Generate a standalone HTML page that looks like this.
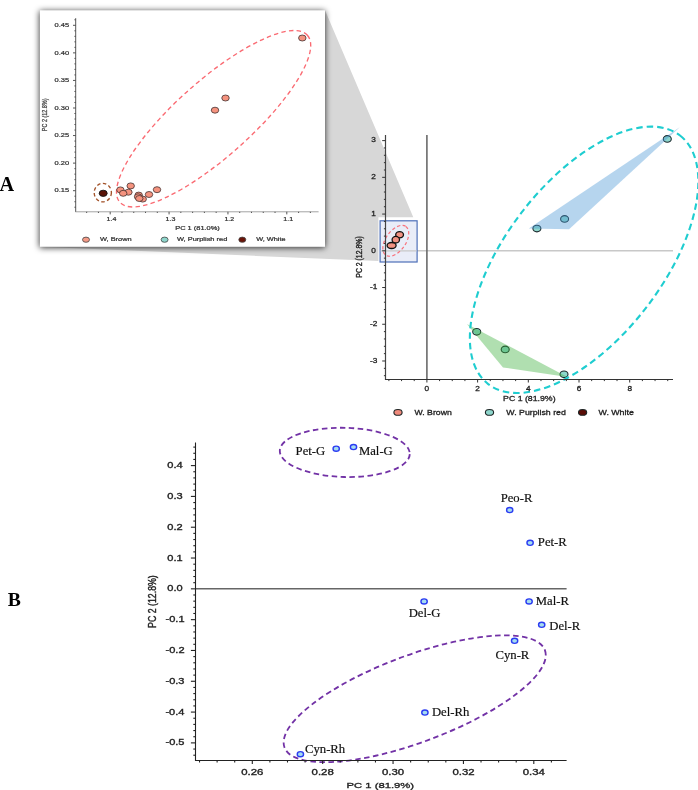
<!DOCTYPE html><html><head><meta charset="utf-8"><style>html,body{margin:0;padding:0;background:#fff;width:698px;height:790px;overflow:hidden}svg{display:block;filter:blur(0.3px)}</style></head><body>
<svg width="698" height="790" viewBox="0 0 698 790">
<defs><filter id="sh" x="-10%" y="-10%" width="120%" height="120%"><feGaussianBlur stdDeviation="3.2"/></filter></defs>
<rect width="698" height="790" fill="#fff"/>
<filter id="pb" x="-5%" y="-5%" width="110%" height="110%"><feGaussianBlur stdDeviation="0.7"/></filter>
<polygon points="325,10.3 413.3,217.3 378.4,217.3 378.4,261.1 39.9,246.8" fill="#d7d7d7" filter="url(#pb)"/>
<line x1="383" y1="250.80" x2="673" y2="250.80" stroke="#c8c8c8" stroke-width="1.5"/>
<line x1="426.90" y1="135" x2="426.90" y2="379.5" stroke="#6a6a6a" stroke-width="1.6"/>
<ellipse cx="536.9" cy="228.6" rx="4.0" ry="3.3" fill="#8ed6cc" stroke="#1e2a2e" stroke-width="1.1"/>
<ellipse cx="564.6" cy="218.9" rx="4.0" ry="3.3" fill="#8ed6cc" stroke="#1e2a2e" stroke-width="1.1"/>
<ellipse cx="667.3" cy="138.9" rx="4.0" ry="3.3" fill="#8ed6cc" stroke="#1e2a2e" stroke-width="1.1"/>
<ellipse cx="476.7" cy="331.8" rx="4.0" ry="3.3" fill="#8ed6cc" stroke="#1e2a2e" stroke-width="1.1"/>
<ellipse cx="505.2" cy="349.4" rx="4.0" ry="3.3" fill="#8ed6cc" stroke="#1e2a2e" stroke-width="1.1"/>
<ellipse cx="564.0" cy="374.3" rx="4.0" ry="3.3" fill="#8ed6cc" stroke="#1e2a2e" stroke-width="1.1"/>
<polygon points="528.8,228.6 679.7,127.3 569.1,229.3" fill="#4896d4" fill-opacity="0.4"/>
<polygon points="466.9,323.9 567.4,376.9 503,367.4" fill="#3aaf3a" fill-opacity="0.4"/>
<ellipse cx="584.1" cy="259.8" rx="157" ry="78.4" transform="rotate(-52.35 584.1 259.8)" fill="none" stroke="#1fcdd0" stroke-width="2.1" stroke-dasharray="6.5,4"/>
<rect x="380.1" y="220.8" width="37" height="41.2" fill="#e9edf8" stroke="#4d6fb8" stroke-width="1.2"/>
<line x1="380.5" y1="250.80" x2="416.5" y2="250.80" stroke="#c8c8c8" stroke-width="1.3"/>
<ellipse cx="395.8" cy="240.8" rx="17.5" ry="10" transform="rotate(-55 395.8 240.8)" fill="none" stroke="#f8707a" stroke-width="1.2" stroke-dasharray="3.2,2.4"/>
<ellipse cx="399.6" cy="234.8" rx="3.9" ry="3.1" fill="#f29283" stroke="#111" stroke-width="1.3"/>
<ellipse cx="395.8" cy="239.7" rx="3.7" ry="3.3" fill="#f29283" stroke="#111" stroke-width="1.3"/>
<ellipse cx="391.6" cy="245.5" rx="4.5" ry="3.0" fill="#f29283" stroke="#111" stroke-width="1.3"/>
<g stroke="#333" stroke-width="1" fill="none">
<line x1="385.5" y1="135" x2="385.5" y2="380" stroke="#444" stroke-width="1.2"/>
<line x1="385" y1="379.5" x2="673" y2="379.5"/>
<line x1="383.90" y1="375.68" x2="385.5" y2="375.68"/>
<line x1="383.90" y1="368.34" x2="385.5" y2="368.34"/>
<line x1="382.20" y1="360.99" x2="385.5" y2="360.99"/>
<line x1="383.90" y1="353.64" x2="385.5" y2="353.64"/>
<line x1="383.90" y1="346.30" x2="385.5" y2="346.30"/>
<line x1="383.90" y1="338.95" x2="385.5" y2="338.95"/>
<line x1="383.90" y1="331.61" x2="385.5" y2="331.61"/>
<line x1="382.20" y1="324.26" x2="385.5" y2="324.26"/>
<line x1="383.90" y1="316.91" x2="385.5" y2="316.91"/>
<line x1="383.90" y1="309.57" x2="385.5" y2="309.57"/>
<line x1="383.90" y1="302.22" x2="385.5" y2="302.22"/>
<line x1="383.90" y1="294.88" x2="385.5" y2="294.88"/>
<line x1="382.20" y1="287.53" x2="385.5" y2="287.53"/>
<line x1="383.90" y1="280.18" x2="385.5" y2="280.18"/>
<line x1="383.90" y1="272.84" x2="385.5" y2="272.84"/>
<line x1="383.90" y1="265.49" x2="385.5" y2="265.49"/>
<line x1="383.90" y1="258.15" x2="385.5" y2="258.15"/>
<line x1="382.20" y1="250.80" x2="385.5" y2="250.80"/>
<line x1="383.90" y1="243.45" x2="385.5" y2="243.45"/>
<line x1="383.90" y1="236.11" x2="385.5" y2="236.11"/>
<line x1="383.90" y1="228.76" x2="385.5" y2="228.76"/>
<line x1="383.90" y1="221.42" x2="385.5" y2="221.42"/>
<line x1="382.20" y1="214.07" x2="385.5" y2="214.07"/>
<line x1="383.90" y1="206.72" x2="385.5" y2="206.72"/>
<line x1="383.90" y1="199.38" x2="385.5" y2="199.38"/>
<line x1="383.90" y1="192.03" x2="385.5" y2="192.03"/>
<line x1="383.90" y1="184.69" x2="385.5" y2="184.69"/>
<line x1="382.20" y1="177.34" x2="385.5" y2="177.34"/>
<line x1="383.90" y1="169.99" x2="385.5" y2="169.99"/>
<line x1="383.90" y1="162.65" x2="385.5" y2="162.65"/>
<line x1="383.90" y1="155.30" x2="385.5" y2="155.30"/>
<line x1="383.90" y1="147.96" x2="385.5" y2="147.96"/>
<line x1="382.20" y1="140.61" x2="385.5" y2="140.61"/>
<line x1="388.88" y1="379.5" x2="388.88" y2="381.10"/>
<line x1="401.55" y1="379.5" x2="401.55" y2="381.10"/>
<line x1="414.22" y1="379.5" x2="414.22" y2="381.10"/>
<line x1="426.90" y1="379.5" x2="426.90" y2="382.50"/>
<line x1="439.57" y1="379.5" x2="439.57" y2="381.10"/>
<line x1="452.25" y1="379.5" x2="452.25" y2="381.10"/>
<line x1="464.92" y1="379.5" x2="464.92" y2="381.10"/>
<line x1="477.60" y1="379.5" x2="477.60" y2="382.50"/>
<line x1="490.27" y1="379.5" x2="490.27" y2="381.10"/>
<line x1="502.95" y1="379.5" x2="502.95" y2="381.10"/>
<line x1="515.62" y1="379.5" x2="515.62" y2="381.10"/>
<line x1="528.30" y1="379.5" x2="528.30" y2="382.50"/>
<line x1="540.98" y1="379.5" x2="540.98" y2="381.10"/>
<line x1="553.65" y1="379.5" x2="553.65" y2="381.10"/>
<line x1="566.33" y1="379.5" x2="566.33" y2="381.10"/>
<line x1="579.00" y1="379.5" x2="579.00" y2="382.50"/>
<line x1="591.67" y1="379.5" x2="591.67" y2="381.10"/>
<line x1="604.35" y1="379.5" x2="604.35" y2="381.10"/>
<line x1="617.02" y1="379.5" x2="617.02" y2="381.10"/>
<line x1="629.70" y1="379.5" x2="629.70" y2="382.50"/>
<line x1="642.38" y1="379.5" x2="642.38" y2="381.10"/>
<line x1="655.05" y1="379.5" x2="655.05" y2="381.10"/>
<line x1="667.73" y1="379.5" x2="667.73" y2="381.10"/>
</g>
<text x="371.32" y="142.35" font-size="6.9" font-family='"Liberation Sans", sans-serif' fill="#222" stroke="#222" stroke-width="0.276" textLength="4.60" lengthAdjust="spacingAndGlyphs">3</text>
<text x="371.30" y="179.08" font-size="6.9" font-family='"Liberation Sans", sans-serif' fill="#222" stroke="#222" stroke-width="0.276" textLength="4.60" lengthAdjust="spacingAndGlyphs">2</text>
<text x="371.18" y="215.81" font-size="6.9" font-family='"Liberation Sans", sans-serif' fill="#222" stroke="#222" stroke-width="0.276" textLength="4.60" lengthAdjust="spacingAndGlyphs">1</text>
<text x="371.30" y="252.54" font-size="6.9" font-family='"Liberation Sans", sans-serif' fill="#222" stroke="#222" stroke-width="0.276" textLength="4.60" lengthAdjust="spacingAndGlyphs">0</text>
<text x="369.94" y="289.27" font-size="6.9" font-family='"Liberation Sans", sans-serif' fill="#222" stroke="#222" stroke-width="0.276" textLength="7.36" lengthAdjust="spacingAndGlyphs">-1</text>
<text x="369.94" y="326.00" font-size="6.9" font-family='"Liberation Sans", sans-serif' fill="#222" stroke="#222" stroke-width="0.276" textLength="7.36" lengthAdjust="spacingAndGlyphs">-2</text>
<text x="369.92" y="362.73" font-size="6.9" font-family='"Liberation Sans", sans-serif' fill="#222" stroke="#222" stroke-width="0.276" textLength="7.36" lengthAdjust="spacingAndGlyphs">-3</text>
<text x="424.60" y="390.90" font-size="6.9" font-family='"Liberation Sans", sans-serif' fill="#222" stroke="#222" stroke-width="0.276" textLength="4.60" lengthAdjust="spacingAndGlyphs">0</text>
<text x="475.30" y="390.90" font-size="6.9" font-family='"Liberation Sans", sans-serif' fill="#222" stroke="#222" stroke-width="0.276" textLength="4.60" lengthAdjust="spacingAndGlyphs">2</text>
<text x="526.02" y="390.90" font-size="6.9" font-family='"Liberation Sans", sans-serif' fill="#222" stroke="#222" stroke-width="0.276" textLength="4.60" lengthAdjust="spacingAndGlyphs">4</text>
<text x="576.67" y="390.90" font-size="6.9" font-family='"Liberation Sans", sans-serif' fill="#222" stroke="#222" stroke-width="0.276" textLength="4.60" lengthAdjust="spacingAndGlyphs">6</text>
<text x="627.40" y="390.90" font-size="6.9" font-family='"Liberation Sans", sans-serif' fill="#222" stroke="#222" stroke-width="0.276" textLength="4.60" lengthAdjust="spacingAndGlyphs">8</text>
<text x="503.08" y="401.10" font-size="6.9" font-family='"Liberation Sans", sans-serif' fill="#222" stroke="#222" stroke-width="0.276" textLength="52.48" lengthAdjust="spacingAndGlyphs">PC 1 (81.9%)</text>
<text transform="translate(361.95,257.00) scale(1.23,1) rotate(-90)" x="0" y="0" font-size="6.9" font-family='"Liberation Sans", sans-serif' fill="#222" stroke="#222" stroke-width="0.276" text-anchor="middle" textLength="41.42" lengthAdjust="spacingAndGlyphs">PC 2 (12.8%)</text>
<ellipse cx="398" cy="412.4" rx="4.1" ry="2.9" fill="#f08a7c" stroke="#1e2626" stroke-width="1.1"/>
<text x="414.56" y="414.80" font-size="7.7" font-family='"Liberation Sans", sans-serif' fill="#222" stroke="#222" stroke-width="0.308" textLength="37.21" lengthAdjust="spacingAndGlyphs">W. Brown</text>
<ellipse cx="489.5" cy="412.4" rx="4.1" ry="2.9" fill="#8ed6cc" stroke="#1e2626" stroke-width="1.1"/>
<text x="506.36" y="414.80" font-size="7.7" font-family='"Liberation Sans", sans-serif' fill="#222" stroke="#222" stroke-width="0.308" textLength="59.48" lengthAdjust="spacingAndGlyphs">W. Purplish red</text>
<ellipse cx="582.6" cy="412.4" rx="4.1" ry="2.9" fill="#5a0c06" stroke="#1e2626" stroke-width="1.1"/>
<text x="598.56" y="414.80" font-size="7.7" font-family='"Liberation Sans", sans-serif' fill="#222" stroke="#222" stroke-width="0.308" textLength="35.32" lengthAdjust="spacingAndGlyphs">W. White</text>
<rect x="39.6" y="11.1" width="285.4" height="236.5" fill="#000" fill-opacity="0.82" filter="url(#sh)"/>
<rect x="39.9" y="10.3" width="285.1" height="236.5" fill="#fff"/>
<ellipse cx="213.6" cy="118.75" rx="125.6" ry="37.9" transform="rotate(-41.7 213.6 118.75)" fill="none" stroke="#fa6a72" stroke-width="1.35" stroke-dasharray="4.5,3.2"/>
<ellipse cx="102.8" cy="192.6" rx="8.6" ry="9.3" fill="none" stroke="#a3532a" stroke-width="1.35" stroke-dasharray="3.5,2.5"/>
<ellipse cx="302.3" cy="38" rx="3.75" ry="3.0" fill="#f5937f" stroke="#3a2a2a" stroke-width="0.75"/>
<ellipse cx="225.5" cy="98" rx="3.75" ry="3.0" fill="#f5937f" stroke="#3a2a2a" stroke-width="0.75"/>
<ellipse cx="215" cy="110.2" rx="3.75" ry="3.0" fill="#f5937f" stroke="#3a2a2a" stroke-width="0.75"/>
<ellipse cx="130.7" cy="185.9" rx="3.75" ry="3.0" fill="#f5937f" stroke="#3a2a2a" stroke-width="0.75"/>
<ellipse cx="120.4" cy="189.9" rx="3.75" ry="3.0" fill="#f5937f" stroke="#3a2a2a" stroke-width="0.75"/>
<ellipse cx="128.4" cy="192.2" rx="3.75" ry="3.0" fill="#f5937f" stroke="#3a2a2a" stroke-width="0.75"/>
<ellipse cx="123.2" cy="193.3" rx="3.75" ry="3.0" fill="#f5937f" stroke="#3a2a2a" stroke-width="0.75"/>
<ellipse cx="157" cy="189.7" rx="3.75" ry="3.0" fill="#f5937f" stroke="#3a2a2a" stroke-width="0.75"/>
<ellipse cx="149" cy="194.5" rx="3.75" ry="3.0" fill="#f5937f" stroke="#3a2a2a" stroke-width="0.75"/>
<ellipse cx="138.7" cy="195.1" rx="3.75" ry="3.0" fill="#f5937f" stroke="#3a2a2a" stroke-width="0.75"/>
<ellipse cx="138.1" cy="196.8" rx="3.75" ry="3.0" fill="#f5937f" stroke="#3a2a2a" stroke-width="0.75"/>
<ellipse cx="142.7" cy="199.1" rx="3.75" ry="3.0" fill="#f5937f" stroke="#3a2a2a" stroke-width="0.75"/>
<ellipse cx="139.3" cy="198.5" rx="3.75" ry="3.0" fill="#f5937f" stroke="#3a2a2a" stroke-width="0.75"/>
<ellipse cx="103.2" cy="193.3" rx="4.0" ry="3.1" fill="#5a1408" stroke="#111" stroke-width="0.9"/>
<g stroke="#444" stroke-width="0.9" fill="none">
<line x1="75.7" y1="18.2" x2="75.7" y2="212"/>
<line x1="75.4" y1="211.8" x2="318.6" y2="211.8" stroke="#999"/>
<line x1="74.40" y1="207.23" x2="75.7" y2="207.23"/>
<line x1="74.40" y1="201.72" x2="75.7" y2="201.72"/>
<line x1="74.40" y1="196.20" x2="75.7" y2="196.20"/>
<line x1="73.00" y1="190.69" x2="75.7" y2="190.69"/>
<line x1="74.40" y1="185.18" x2="75.7" y2="185.18"/>
<line x1="74.40" y1="179.66" x2="75.7" y2="179.66"/>
<line x1="74.40" y1="174.15" x2="75.7" y2="174.15"/>
<line x1="74.40" y1="168.64" x2="75.7" y2="168.64"/>
<line x1="73.00" y1="163.12" x2="75.7" y2="163.12"/>
<line x1="74.40" y1="157.61" x2="75.7" y2="157.61"/>
<line x1="74.40" y1="152.10" x2="75.7" y2="152.10"/>
<line x1="74.40" y1="146.59" x2="75.7" y2="146.59"/>
<line x1="74.40" y1="141.07" x2="75.7" y2="141.07"/>
<line x1="73.00" y1="135.56" x2="75.7" y2="135.56"/>
<line x1="74.40" y1="130.05" x2="75.7" y2="130.05"/>
<line x1="74.40" y1="124.53" x2="75.7" y2="124.53"/>
<line x1="74.40" y1="119.02" x2="75.7" y2="119.02"/>
<line x1="74.40" y1="113.51" x2="75.7" y2="113.51"/>
<line x1="73.00" y1="108.00" x2="75.7" y2="108.00"/>
<line x1="74.40" y1="102.48" x2="75.7" y2="102.48"/>
<line x1="74.40" y1="96.97" x2="75.7" y2="96.97"/>
<line x1="74.40" y1="91.46" x2="75.7" y2="91.46"/>
<line x1="74.40" y1="85.94" x2="75.7" y2="85.94"/>
<line x1="73.00" y1="80.43" x2="75.7" y2="80.43"/>
<line x1="74.40" y1="74.92" x2="75.7" y2="74.92"/>
<line x1="74.40" y1="69.40" x2="75.7" y2="69.40"/>
<line x1="74.40" y1="63.89" x2="75.7" y2="63.89"/>
<line x1="74.40" y1="58.38" x2="75.7" y2="58.38"/>
<line x1="73.00" y1="52.86" x2="75.7" y2="52.86"/>
<line x1="74.40" y1="47.35" x2="75.7" y2="47.35"/>
<line x1="74.40" y1="41.84" x2="75.7" y2="41.84"/>
<line x1="74.40" y1="36.33" x2="75.7" y2="36.33"/>
<line x1="74.40" y1="30.81" x2="75.7" y2="30.81"/>
<line x1="73.00" y1="25.30" x2="75.7" y2="25.30"/>
<line x1="74.40" y1="19.79" x2="75.7" y2="19.79"/>
<line x1="86.65" y1="211.8" x2="86.65" y2="213.00"/>
<line x1="98.43" y1="211.8" x2="98.43" y2="213.00"/>
<line x1="110.20" y1="211.8" x2="110.20" y2="214.40"/>
<line x1="121.97" y1="211.8" x2="121.97" y2="213.00"/>
<line x1="133.75" y1="211.8" x2="133.75" y2="213.00"/>
<line x1="145.52" y1="211.8" x2="145.52" y2="213.00"/>
<line x1="157.30" y1="211.8" x2="157.30" y2="213.00"/>
<line x1="169.07" y1="211.8" x2="169.07" y2="214.40"/>
<line x1="180.84" y1="211.8" x2="180.84" y2="213.00"/>
<line x1="192.62" y1="211.8" x2="192.62" y2="213.00"/>
<line x1="204.39" y1="211.8" x2="204.39" y2="213.00"/>
<line x1="216.17" y1="211.8" x2="216.17" y2="213.00"/>
<line x1="227.94" y1="211.8" x2="227.94" y2="214.40"/>
<line x1="239.71" y1="211.8" x2="239.71" y2="213.00"/>
<line x1="251.49" y1="211.8" x2="251.49" y2="213.00"/>
<line x1="263.26" y1="211.8" x2="263.26" y2="213.00"/>
<line x1="275.04" y1="211.8" x2="275.04" y2="213.00"/>
<line x1="286.81" y1="211.8" x2="286.81" y2="214.40"/>
<line x1="298.58" y1="211.8" x2="298.58" y2="213.00"/>
<line x1="310.36" y1="211.8" x2="310.36" y2="213.00"/>
</g>
<text x="54.61" y="27.10" font-size="5.3" font-family='"Liberation Sans", sans-serif' fill="#333" stroke="#333" stroke-width="0.212" textLength="14.61" lengthAdjust="spacingAndGlyphs">0.45</text>
<text x="54.60" y="54.66" font-size="5.3" font-family='"Liberation Sans", sans-serif' fill="#333" stroke="#333" stroke-width="0.212" textLength="14.61" lengthAdjust="spacingAndGlyphs">0.40</text>
<text x="54.61" y="82.23" font-size="5.3" font-family='"Liberation Sans", sans-serif' fill="#333" stroke="#333" stroke-width="0.212" textLength="14.61" lengthAdjust="spacingAndGlyphs">0.35</text>
<text x="54.60" y="109.80" font-size="5.3" font-family='"Liberation Sans", sans-serif' fill="#333" stroke="#333" stroke-width="0.212" textLength="14.61" lengthAdjust="spacingAndGlyphs">0.30</text>
<text x="54.61" y="137.36" font-size="5.3" font-family='"Liberation Sans", sans-serif' fill="#333" stroke="#333" stroke-width="0.212" textLength="14.61" lengthAdjust="spacingAndGlyphs">0.25</text>
<text x="54.60" y="164.93" font-size="5.3" font-family='"Liberation Sans", sans-serif' fill="#333" stroke="#333" stroke-width="0.212" textLength="14.61" lengthAdjust="spacingAndGlyphs">0.20</text>
<text x="54.61" y="192.49" font-size="5.3" font-family='"Liberation Sans", sans-serif' fill="#333" stroke="#333" stroke-width="0.212" textLength="14.61" lengthAdjust="spacingAndGlyphs">0.15</text>
<text x="106.64" y="221.20" font-size="5.3" font-family='"Liberation Sans", sans-serif' fill="#333" stroke="#333" stroke-width="0.212" textLength="9.80" lengthAdjust="spacingAndGlyphs">1.4</text>
<text x="165.56" y="221.20" font-size="5.3" font-family='"Liberation Sans", sans-serif' fill="#333" stroke="#333" stroke-width="0.212" textLength="9.80" lengthAdjust="spacingAndGlyphs">1.3</text>
<text x="224.45" y="221.20" font-size="5.3" font-family='"Liberation Sans", sans-serif' fill="#333" stroke="#333" stroke-width="0.212" textLength="9.80" lengthAdjust="spacingAndGlyphs">1.2</text>
<text x="283.31" y="221.20" font-size="5.3" font-family='"Liberation Sans", sans-serif' fill="#333" stroke="#333" stroke-width="0.212" textLength="9.80" lengthAdjust="spacingAndGlyphs">1.1</text>
<text x="175.19" y="230.00" font-size="5.3" font-family='"Liberation Sans", sans-serif' fill="#333" stroke="#333" stroke-width="0.212" textLength="44.67" lengthAdjust="spacingAndGlyphs">PC 1 (81.0%)</text>
<text transform="translate(46.90,114.85) scale(1.25,1) rotate(-90)" x="0" y="0" font-size="5.45" font-family='"Liberation Sans", sans-serif' fill="#444" stroke="#444" stroke-width="0.218" text-anchor="middle" textLength="32.71" lengthAdjust="spacingAndGlyphs">PC 2 (12.8%)</text>
<ellipse cx="86" cy="239.7" rx="3.5" ry="2.6" fill="#f49a86" stroke="#444" stroke-width="0.8"/>
<text x="99.97" y="241.10" font-size="5.3" font-family='"Liberation Sans", sans-serif' fill="#333" stroke="#333" stroke-width="0.212" textLength="31.61" lengthAdjust="spacingAndGlyphs">W, Brown</text>
<ellipse cx="164.6" cy="239.7" rx="3.5" ry="2.6" fill="#8ed6cc" stroke="#444" stroke-width="0.8"/>
<text x="176.97" y="241.10" font-size="5.3" font-family='"Liberation Sans", sans-serif' fill="#333" stroke="#333" stroke-width="0.212" textLength="50.32" lengthAdjust="spacingAndGlyphs">W, Purplish red</text>
<ellipse cx="242.3" cy="239.7" rx="3.5" ry="2.6" fill="#6a1408" stroke="#444" stroke-width="0.8"/>
<text x="256.27" y="241.10" font-size="5.3" font-family='"Liberation Sans", sans-serif' fill="#333" stroke="#333" stroke-width="0.212" textLength="29.36" lengthAdjust="spacingAndGlyphs">W, White</text>
<text x="-0.60" y="190.60" font-size="20.3" font-family='"Liberation Serif", serif' fill="#000" font-weight="bold" textLength="14.66" lengthAdjust="spacingAndGlyphs">A</text>
<text x="7.87" y="605.60" font-size="19.7" font-family='"Liberation Serif", serif' fill="#000" font-weight="bold" textLength="13.14" lengthAdjust="spacingAndGlyphs">B</text>
<line x1="195.5" y1="588.84" x2="566.6" y2="588.84" stroke="#666" stroke-width="1.5"/>
<ellipse cx="344.8" cy="452.4" rx="65" ry="24.6" transform="rotate(1.5 344.8 452.4)" fill="none" stroke="#7232a6" stroke-width="1.8" stroke-dasharray="5.5,3.5"/>
<ellipse cx="414.7" cy="698.8" rx="139" ry="43.4" transform="rotate(-20.5 414.7 698.8)" fill="none" stroke="#7232a6" stroke-width="1.8" stroke-dasharray="5.5,3.5"/>
<g stroke="#222" stroke-width="1.1" fill="none">
<line x1="195.5" y1="442.5" x2="195.5" y2="761"/>
<line x1="195" y1="760.5" x2="566.6" y2="760.5"/>
<line x1="193.30" y1="755.21" x2="195.5" y2="755.21"/>
<line x1="193.30" y1="749.05" x2="195.5" y2="749.05"/>
<line x1="190.90" y1="742.89" x2="195.5" y2="742.89"/>
<line x1="193.30" y1="736.73" x2="195.5" y2="736.73"/>
<line x1="193.30" y1="730.57" x2="195.5" y2="730.57"/>
<line x1="193.30" y1="724.40" x2="195.5" y2="724.40"/>
<line x1="193.30" y1="718.24" x2="195.5" y2="718.24"/>
<line x1="190.90" y1="712.08" x2="195.5" y2="712.08"/>
<line x1="193.30" y1="705.92" x2="195.5" y2="705.92"/>
<line x1="193.30" y1="699.76" x2="195.5" y2="699.76"/>
<line x1="193.30" y1="693.59" x2="195.5" y2="693.59"/>
<line x1="193.30" y1="687.43" x2="195.5" y2="687.43"/>
<line x1="190.90" y1="681.27" x2="195.5" y2="681.27"/>
<line x1="193.30" y1="675.11" x2="195.5" y2="675.11"/>
<line x1="193.30" y1="668.95" x2="195.5" y2="668.95"/>
<line x1="193.30" y1="662.78" x2="195.5" y2="662.78"/>
<line x1="193.30" y1="656.62" x2="195.5" y2="656.62"/>
<line x1="190.90" y1="650.46" x2="195.5" y2="650.46"/>
<line x1="193.30" y1="644.30" x2="195.5" y2="644.30"/>
<line x1="193.30" y1="638.14" x2="195.5" y2="638.14"/>
<line x1="193.30" y1="631.97" x2="195.5" y2="631.97"/>
<line x1="193.30" y1="625.81" x2="195.5" y2="625.81"/>
<line x1="190.90" y1="619.65" x2="195.5" y2="619.65"/>
<line x1="193.30" y1="613.49" x2="195.5" y2="613.49"/>
<line x1="193.30" y1="607.33" x2="195.5" y2="607.33"/>
<line x1="193.30" y1="601.16" x2="195.5" y2="601.16"/>
<line x1="193.30" y1="595.00" x2="195.5" y2="595.00"/>
<line x1="190.90" y1="588.84" x2="195.5" y2="588.84"/>
<line x1="193.30" y1="582.68" x2="195.5" y2="582.68"/>
<line x1="193.30" y1="576.52" x2="195.5" y2="576.52"/>
<line x1="193.30" y1="570.35" x2="195.5" y2="570.35"/>
<line x1="193.30" y1="564.19" x2="195.5" y2="564.19"/>
<line x1="190.90" y1="558.03" x2="195.5" y2="558.03"/>
<line x1="193.30" y1="551.87" x2="195.5" y2="551.87"/>
<line x1="193.30" y1="545.71" x2="195.5" y2="545.71"/>
<line x1="193.30" y1="539.54" x2="195.5" y2="539.54"/>
<line x1="193.30" y1="533.38" x2="195.5" y2="533.38"/>
<line x1="190.90" y1="527.22" x2="195.5" y2="527.22"/>
<line x1="193.30" y1="521.06" x2="195.5" y2="521.06"/>
<line x1="193.30" y1="514.90" x2="195.5" y2="514.90"/>
<line x1="193.30" y1="508.73" x2="195.5" y2="508.73"/>
<line x1="193.30" y1="502.57" x2="195.5" y2="502.57"/>
<line x1="190.90" y1="496.41" x2="195.5" y2="496.41"/>
<line x1="193.30" y1="490.25" x2="195.5" y2="490.25"/>
<line x1="193.30" y1="484.09" x2="195.5" y2="484.09"/>
<line x1="193.30" y1="477.92" x2="195.5" y2="477.92"/>
<line x1="193.30" y1="471.76" x2="195.5" y2="471.76"/>
<line x1="190.90" y1="465.60" x2="195.5" y2="465.60"/>
<line x1="193.30" y1="459.44" x2="195.5" y2="459.44"/>
<line x1="193.30" y1="453.28" x2="195.5" y2="453.28"/>
<line x1="193.30" y1="447.11" x2="195.5" y2="447.11"/>
<line x1="199.52" y1="760.5" x2="199.52" y2="762.50"/>
<line x1="217.11" y1="760.5" x2="217.11" y2="762.50"/>
<line x1="234.71" y1="760.5" x2="234.71" y2="762.50"/>
<line x1="252.30" y1="760.5" x2="252.30" y2="764.00"/>
<line x1="269.89" y1="760.5" x2="269.89" y2="762.50"/>
<line x1="287.49" y1="760.5" x2="287.49" y2="762.50"/>
<line x1="305.08" y1="760.5" x2="305.08" y2="762.50"/>
<line x1="322.68" y1="760.5" x2="322.68" y2="764.00"/>
<line x1="340.27" y1="760.5" x2="340.27" y2="762.50"/>
<line x1="357.86" y1="760.5" x2="357.86" y2="762.50"/>
<line x1="375.46" y1="760.5" x2="375.46" y2="762.50"/>
<line x1="393.05" y1="760.5" x2="393.05" y2="764.00"/>
<line x1="410.64" y1="760.5" x2="410.64" y2="762.50"/>
<line x1="428.24" y1="760.5" x2="428.24" y2="762.50"/>
<line x1="445.83" y1="760.5" x2="445.83" y2="762.50"/>
<line x1="463.43" y1="760.5" x2="463.43" y2="764.00"/>
<line x1="481.02" y1="760.5" x2="481.02" y2="762.50"/>
<line x1="498.61" y1="760.5" x2="498.61" y2="762.50"/>
<line x1="516.21" y1="760.5" x2="516.21" y2="762.50"/>
<line x1="533.80" y1="760.5" x2="533.80" y2="764.00"/>
<line x1="551.39" y1="760.5" x2="551.39" y2="762.50"/>
</g>
<text x="167.27" y="468.20" font-size="8.5" font-family='"Liberation Sans", sans-serif' fill="#222" stroke="#222" stroke-width="0.340" textLength="15.36" lengthAdjust="spacingAndGlyphs">0.4</text>
<text x="167.35" y="499.01" font-size="8.5" font-family='"Liberation Sans", sans-serif' fill="#222" stroke="#222" stroke-width="0.340" textLength="15.36" lengthAdjust="spacingAndGlyphs">0.3</text>
<text x="167.38" y="529.82" font-size="8.5" font-family='"Liberation Sans", sans-serif' fill="#222" stroke="#222" stroke-width="0.340" textLength="15.36" lengthAdjust="spacingAndGlyphs">0.2</text>
<text x="167.37" y="560.63" font-size="8.5" font-family='"Liberation Sans", sans-serif' fill="#222" stroke="#222" stroke-width="0.340" textLength="15.36" lengthAdjust="spacingAndGlyphs">0.1</text>
<text x="167.32" y="591.44" font-size="8.5" font-family='"Liberation Sans", sans-serif' fill="#222" stroke="#222" stroke-width="0.340" textLength="15.36" lengthAdjust="spacingAndGlyphs">0.0</text>
<text x="165.50" y="622.25" font-size="8.5" font-family='"Liberation Sans", sans-serif' fill="#222" stroke="#222" stroke-width="0.340" textLength="19.04" lengthAdjust="spacingAndGlyphs">-0.1</text>
<text x="165.51" y="653.06" font-size="8.5" font-family='"Liberation Sans", sans-serif' fill="#222" stroke="#222" stroke-width="0.340" textLength="19.04" lengthAdjust="spacingAndGlyphs">-0.2</text>
<text x="165.48" y="683.87" font-size="8.5" font-family='"Liberation Sans", sans-serif' fill="#222" stroke="#222" stroke-width="0.340" textLength="19.04" lengthAdjust="spacingAndGlyphs">-0.3</text>
<text x="165.40" y="714.68" font-size="8.5" font-family='"Liberation Sans", sans-serif' fill="#222" stroke="#222" stroke-width="0.340" textLength="19.04" lengthAdjust="spacingAndGlyphs">-0.4</text>
<text x="165.47" y="745.49" font-size="8.5" font-family='"Liberation Sans", sans-serif' fill="#222" stroke="#222" stroke-width="0.340" textLength="19.04" lengthAdjust="spacingAndGlyphs">-0.5</text>
<text x="241.24" y="774.70" font-size="8.5" font-family='"Liberation Sans", sans-serif' fill="#222" stroke="#222" stroke-width="0.340" textLength="22.17" lengthAdjust="spacingAndGlyphs">0.26</text>
<text x="311.62" y="774.70" font-size="8.5" font-family='"Liberation Sans", sans-serif' fill="#222" stroke="#222" stroke-width="0.340" textLength="22.17" lengthAdjust="spacingAndGlyphs">0.28</text>
<text x="381.97" y="774.70" font-size="8.5" font-family='"Liberation Sans", sans-serif' fill="#222" stroke="#222" stroke-width="0.340" textLength="22.17" lengthAdjust="spacingAndGlyphs">0.30</text>
<text x="452.40" y="774.70" font-size="8.5" font-family='"Liberation Sans", sans-serif' fill="#222" stroke="#222" stroke-width="0.340" textLength="22.17" lengthAdjust="spacingAndGlyphs">0.32</text>
<text x="522.66" y="774.70" font-size="8.5" font-family='"Liberation Sans", sans-serif' fill="#222" stroke="#222" stroke-width="0.340" textLength="22.17" lengthAdjust="spacingAndGlyphs">0.34</text>
<text x="346.58" y="788.10" font-size="8.0" font-family='"Liberation Sans", sans-serif' fill="#222" stroke="#222" stroke-width="0.320" textLength="67.52" lengthAdjust="spacingAndGlyphs">PC 1 (81.9%)</text>
<text transform="translate(155.60,601.60) scale(1.21,1) rotate(-90)" x="0" y="0" font-size="8.77" font-family='"Liberation Sans", sans-serif' fill="#222" stroke="#222" stroke-width="0.351" text-anchor="middle" textLength="52.64" lengthAdjust="spacingAndGlyphs">PC 2 (12.8%)</text>
<ellipse cx="336.2" cy="448.7" rx="3.15" ry="2.55" fill="#a6dcef" stroke="#2b3cf2" stroke-width="1.4"/>
<ellipse cx="353.5" cy="447.1" rx="3.15" ry="2.55" fill="#a6dcef" stroke="#2b3cf2" stroke-width="1.4"/>
<ellipse cx="509.7" cy="510.1" rx="3.15" ry="2.55" fill="#a6dcef" stroke="#2b3cf2" stroke-width="1.4"/>
<ellipse cx="530.1" cy="542.8" rx="3.15" ry="2.55" fill="#a6dcef" stroke="#2b3cf2" stroke-width="1.4"/>
<ellipse cx="529.1" cy="601.4" rx="3.15" ry="2.55" fill="#a6dcef" stroke="#2b3cf2" stroke-width="1.4"/>
<ellipse cx="424.1" cy="601.4" rx="3.15" ry="2.55" fill="#a6dcef" stroke="#2b3cf2" stroke-width="1.4"/>
<ellipse cx="541.7" cy="624.8" rx="3.15" ry="2.55" fill="#a6dcef" stroke="#2b3cf2" stroke-width="1.4"/>
<ellipse cx="514.6" cy="640.8" rx="3.15" ry="2.55" fill="#a6dcef" stroke="#2b3cf2" stroke-width="1.4"/>
<ellipse cx="424.9" cy="712.6" rx="3.15" ry="2.55" fill="#a6dcef" stroke="#2b3cf2" stroke-width="1.4"/>
<ellipse cx="300.4" cy="754.2" rx="3.15" ry="2.55" fill="#a6dcef" stroke="#2b3cf2" stroke-width="1.4"/>
<text x="295.63" y="455.30" font-size="12.7" font-family='"Liberation Serif", serif' fill="#111" stroke="#111" stroke-width="0.190" textLength="29.63" lengthAdjust="spacingAndGlyphs">Pet-G</text>
<text x="358.93" y="455.30" font-size="12.7" font-family='"Liberation Serif", serif' fill="#111" stroke="#111" stroke-width="0.190" textLength="33.86" lengthAdjust="spacingAndGlyphs">Mal-G</text>
<text x="500.63" y="501.50" font-size="12.7" font-family='"Liberation Serif", serif' fill="#111" stroke="#111" stroke-width="0.190" textLength="31.75" lengthAdjust="spacingAndGlyphs">Peo-R</text>
<text x="537.83" y="546.40" font-size="12.7" font-family='"Liberation Serif", serif' fill="#111" stroke="#111" stroke-width="0.190" textLength="28.93" lengthAdjust="spacingAndGlyphs">Pet-R</text>
<text x="535.83" y="604.80" font-size="12.7" font-family='"Liberation Serif", serif' fill="#111" stroke="#111" stroke-width="0.190" textLength="33.16" lengthAdjust="spacingAndGlyphs">Mal-R</text>
<text x="408.63" y="617.00" font-size="12.7" font-family='"Liberation Serif", serif' fill="#111" stroke="#111" stroke-width="0.190" textLength="31.74" lengthAdjust="spacingAndGlyphs">Del-G</text>
<text x="549.23" y="630.20" font-size="12.7" font-family='"Liberation Serif", serif' fill="#111" stroke="#111" stroke-width="0.190" textLength="31.04" lengthAdjust="spacingAndGlyphs">Del-R</text>
<text x="495.48" y="658.60" font-size="12.7" font-family='"Liberation Serif", serif' fill="#111" stroke="#111" stroke-width="0.190" textLength="33.87" lengthAdjust="spacingAndGlyphs">Cyn-R</text>
<text x="431.93" y="716.30" font-size="12.7" font-family='"Liberation Serif", serif' fill="#111" stroke="#111" stroke-width="0.190" textLength="37.39" lengthAdjust="spacingAndGlyphs">Del-Rh</text>
<text x="304.98" y="753.30" font-size="12.7" font-family='"Liberation Serif", serif' fill="#111" stroke="#111" stroke-width="0.190" textLength="40.22" lengthAdjust="spacingAndGlyphs">Cyn-Rh</text>
</svg></body></html>
